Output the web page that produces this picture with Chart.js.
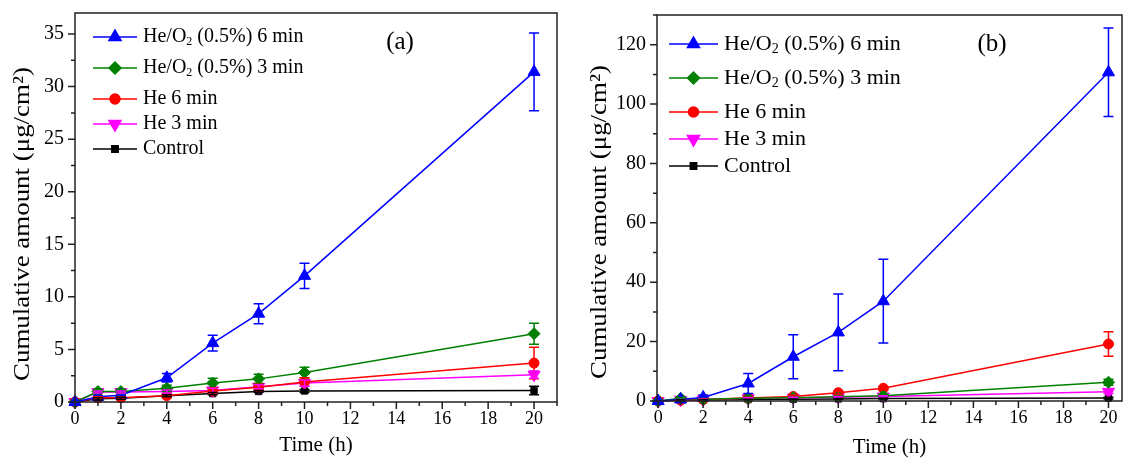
<!DOCTYPE html>
<html>
<head>
<meta charset="utf-8">
<script src="https://cdn.jsdelivr.net/npm/chart.js@4.4.1/dist/chart.umd.min.js"></script>
<style>
  html, body { margin: 0; padding: 0; background: #fff; }
  .panel { position: absolute; top: 0; width: 565px; height: 462px; }
  #panelA { left: 0; }
  #panelB { left: 565px; }
</style>
</head>
<body>
<div class="panel" id="panelA"><canvas id="chartA"></canvas></div>
<div class="panel" id="panelB"><canvas id="chartB"></canvas></div>
<script>
// sampling times (h)
const times = [0, 1, 2, 4, 6, 8, 10, 20];
const seriesNames = ['He/O_2 (0.5%) 6 min', 'He/O_2 (0.5%) 3 min', 'He 6 min', 'He 3 min', 'Control'];
const seriesColors = ['#0000ff', '#008000', '#ff0000', '#ff00ff', '#000000'];

// panel (a)
const aHeO2_6 = [0, 0.5, 0.65, 2.3, 5.6, 8.4, 12.0, 31.4];
const aHeO2_6Err = [0, 0.1, 0.1, 0.4, 0.75, 0.95, 1.2, 3.7];
const aHeO2_3 = [0, 1.0, 1.0, 1.3, 1.8, 2.2, 2.8, 6.5];
const aHeO2_3Err = [0, 0.2, 0.2, 0.3, 0.45, 0.45, 0.5, 1.0];
const aHe6 = [0, 0.4, 0.4, 0.6, 1.05, 1.4, 1.9, 3.7];
const aHe6Err = [0, 0.1, 0.1, 0.2, 0.3, 0.3, 0.4, 1.5];
const aHe3 = [0, 0.95, 0.95, 1.0, 1.1, 1.45, 1.8, 2.6];
const aHe3Err = [0, 0.1, 0.1, 0.15, 0.2, 0.2, 0.3, 0.35];
const aControl = [0, 0.3, 0.35, 0.6, 0.8, 1.0, 1.05, 1.1];
const aControlErr = [0, 0.1, 0.1, 0.1, 0.1, 0.1, 0.15, 0.4];

// panel (b)
const bHeO2_6 = [0, 0.5, 1.2, 5.9, 14.9, 23.1, 33.6, 110.7];
const bHeO2_6Err = [0, 0.3, 0.8, 3.4, 7.4, 12.9, 14.1, 14.9];
const bHeO2_3 = [0, 0.9, 0.6, 0.9, 1.1, 1.4, 1.8, 6.3];
const bHeO2_3Err = [0, 0.3, 0.2, 0.3, 0.3, 0.4, 0.4, 1.0];
const bHe6 = [0, 0.3, 0.5, 1.0, 1.5, 2.8, 4.3, 19.2];
const bHe6Err = [0, 0.1, 0.2, 0.3, 0.4, 0.5, 0.6, 4.1];
const bHe3 = [0, 0.4, 0.5, 0.9, 1.1, 1.3, 1.5, 3.1];
const bHe3Err = [0, 0.1, 0.1, 0.2, 0.2, 0.2, 0.3, 0.6];
const bControl = [0, 0.3, 0.3, 0.5, 0.6, 0.7, 0.8, 1.0];
const bControlErr = [0, 0.1, 0.1, 0.1, 0.1, 0.1, 0.1, 0.3];

const pointStyles = ['triangle', 'rectRot', 'circle', 'triangle', 'rect'];
const pointRotations = [0, 0, 0, 180, 0];
const pointRadii = [7, 6, 5, 7, 4.5];

const SERIF = '"Liberation Serif", "Times New Roman", serif';

// draws text, "_2" becomes a subscript 2
function drawRich(ctx, text, x, y, size) {
  const parts = text.split('_');
  ctx.font = size + 'px ' + SERIF;
  ctx.fillText(parts[0], x, y);
  x += ctx.measureText(parts[0]).width;
  for (let i = 1; i < parts.length; i++) {
    const sub = parts[i].charAt(0);
    ctx.font = Math.round(size * 0.62) + 'px ' + SERIF;
    ctx.fillText(sub, x, y + size * 0.22);
    x += ctx.measureText(sub).width;
    ctx.font = size + 'px ' + SERIF;
    const rest = parts[i].slice(1);
    ctx.fillText(rest, x, y);
    x += ctx.measureText(rest).width;
  }
}

const figurePlugin = {
  id: 'figure',
  afterDatasetsDraw(chart) {
    // error bars
    const ctx = chart.ctx;
    const xs = chart.scales.x, ys = chart.scales.y;
    ctx.save();
    chart.data.datasets.forEach((ds, i) => {
      ctx.strokeStyle = ds.borderColor;
      ctx.lineWidth = 1.5;
      ds.data.forEach((pt, j) => {
        const e = ds.errors[j];
        if (!e) return;
        const px = xs.getPixelForValue(pt.x);
        const top = ys.getPixelForValue(pt.y + e);
        const bot = ys.getPixelForValue(pt.y - e);
        ctx.beginPath();
        ctx.moveTo(px, top); ctx.lineTo(px, bot);
        ctx.moveTo(px - 5, top); ctx.lineTo(px + 5, top);
        ctx.moveTo(px - 5, bot); ctx.lineTo(px + 5, bot);
        ctx.stroke();
      });
    });
    ctx.restore();
  },
  afterDraw(chart) {
    const o = chart.options.plugins.figure;
    const ctx = chart.ctx;
    const area = chart.chartArea;
    const xs = chart.scales.x, ys = chart.scales.y;
    ctx.save();
    // frame
    ctx.strokeStyle = '#222';
    ctx.lineWidth = 1.5;
    ctx.strokeRect(area.left, area.top, area.right - area.left, area.bottom - area.top);
    // tick marks, outward
    ctx.beginPath();
    xs.ticks.forEach(t => {
      const px = xs.getPixelForValue(t.value);
      const len = (t.value % o.xMajor === 0) ? 7 : 4;
      ctx.moveTo(px, area.bottom); ctx.lineTo(px, area.bottom + len);
    });
    ys.ticks.forEach(t => {
      const py = ys.getPixelForValue(t.value);
      const len = (t.value % o.yMajor === 0) ? 7 : 4;
      ctx.moveTo(area.left, py); ctx.lineTo(area.left - len, py);
    });
    ctx.stroke();

    ctx.fillStyle = '#000';
    // axis titles
    ctx.textAlign = 'center';
    ctx.textBaseline = 'middle';
    ctx.font = o.xTitleSize + 'px ' + SERIF;
    ctx.fillText('Time (h)', (area.left + area.right) / 2, o.xTitleY);
    ctx.save();
    ctx.translate(o.yTitleX, o.yTitleY);
    ctx.rotate(-Math.PI / 2);
    ctx.scale(o.yTitleStretch, 1);
    ctx.font = o.yTitleSize + 'px ' + SERIF;
    ctx.fillText('Cumulative amount (\u03bcg/cm\u00b2)', 0, 0);
    ctx.restore();
    // panel label
    ctx.font = o.labelSize + 'px ' + SERIF;
    ctx.fillText(o.panelLabel, o.panelX, o.panelY);

    // legend
    ctx.textAlign = 'left';
    ctx.textBaseline = 'middle';
    chart.data.datasets.forEach((ds, i) => {
      const y = o.legendRows[i];
      ctx.strokeStyle = ds.borderColor;
      ctx.lineWidth = 1.5;
      ctx.beginPath();
      ctx.moveTo(o.legendX0, y); ctx.lineTo(o.legendX1, y);
      ctx.stroke();
      ctx.fillStyle = ds.borderColor;
      ctx.strokeStyle = ds.borderColor;
      Chart.helpers.drawPoint(ctx, {
        pointStyle: ds.pointStyle, rotation: ds.pointRotation,
        radius: ds.pointRadius, borderWidth: 1
      }, (o.legendX0 + o.legendX1) / 2, y);
      ctx.fillStyle = '#000';
      drawRich(ctx, ds.label, o.legendX1 + 6, y, o.legendSize);
    });
    ctx.restore();
  }
};

// drop the extra room Chart.js keeps for the end tick labels
function noLabelPadding(s) {
  s.paddingTop = 0; s.paddingBottom = 0;
  s.paddingLeft = 0; s.paddingRight = 0;
}

function makePanel(id, series, errs, yMax, yStep, yMajor, xMin, xMax, fig) {
  const datasets = series.map((vals, i) => ({
    label: seriesNames[i],
    data: times.map((t, j) => ({ x: t, y: vals[j] })),
    errors: errs[i],
    borderColor: seriesColors[i],
    backgroundColor: seriesColors[i],
    borderWidth: 1.5,
    pointStyle: pointStyles[i],
    pointRotation: pointRotations[i],
    pointRadius: pointRadii[i],
    pointBorderWidth: 1,
    tension: 0,
    clip: false
  }));
  fig.xMajor = 2;
  fig.yMajor = yMajor;
  return new Chart(document.getElementById(id), {
    type: 'line',
    data: { datasets },
    options: {
      responsive: true,
      maintainAspectRatio: false,
      animation: false,
      layout: { padding: fig.padding },
      plugins: { legend: { display: false }, tooltip: { enabled: false }, figure: fig },
      scales: {
        x: {
          type: 'linear', min: xMin, max: xMax,
          grid: { display: false, drawTicks: false },
          border: { display: false },
          ticks: {
            stepSize: 1, includeBounds: false, autoSkip: false, maxRotation: 0, padding: 6,
            color: '#000', font: { family: SERIF, size: 18 },
            callback: v => (v % 2 === 0 ? String(v) : '')
          },
          afterFit: s => { s.height = fig.xAxisH; noLabelPadding(s); }
        },
        y: {
          min: 0, max: yMax,
          grid: { display: false, drawTicks: false },
          border: { display: false },
          ticks: {
            stepSize: yStep, includeBounds: false, autoSkip: false, padding: 11,
            color: '#000', font: { family: SERIF, size: 20 },
            callback: v => (v % yMajor === 0 ? String(v) : '')
          },
          afterFit: s => { s.width = fig.yAxisW; noLabelPadding(s); }
        }
      }
    },
    plugins: [figurePlugin]
  });
}

makePanel('chartA',
  [aHeO2_6, aHeO2_3, aHe6, aHe3, aControl],
  [aHeO2_6Err, aHeO2_3Err, aHe6Err, aHe3Err, aControlErr],
  37, 2.5, 5, 0, 21,
  {
    padding: { left: 0, right: 7, top: 13, bottom: 0 },
    yAxisW: 75, xAxisH: 60,
    xTitleSize: 21, xTitleY: 445,
    yTitleSize: 23, yTitleStretch: 1.17, yTitleX: 23, yTitleY: 224,
    labelSize: 25, panelLabel: '(a)', panelX: 400, panelY: 42,
    legendX0: 93, legendX1: 137, legendSize: 20,
    legendRows: [37, 68, 99, 124, 149]
  });

makePanel('chartB',
  [bHeO2_6, bHeO2_3, bHe6, bHe3, bControl],
  [bHeO2_6Err, bHeO2_3Err, bHe6Err, bHe3Err, bControlErr],
  130, 10, 20, -0.05, 20.6,
  {
    padding: { left: 0, right: 1, top: 15, bottom: 0 },
    yAxisW: 92, xAxisH: 61,
    xTitleSize: 21, xTitleY: 447,
    yTitleSize: 23, yTitleStretch: 1.17, yTitleX: 35, yTitleY: 222,
    labelSize: 25, panelLabel: '(b)', panelX: 427, panelY: 44,
    legendX0: 104, legendX1: 153, legendSize: 22,
    legendRows: [44, 78, 112, 139, 166]
  });
</script>
</body>
</html>
